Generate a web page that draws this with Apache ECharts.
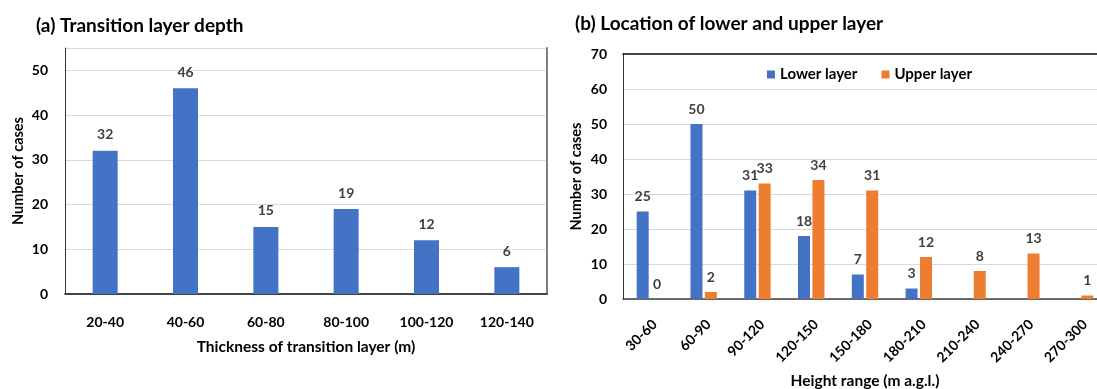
<!DOCTYPE html>
<html>
<head>
<meta charset="utf-8">
<script src="https://cdn.jsdelivr.net/npm/echarts@6/dist/echarts.min.js"></script>
<style>
  html, body { margin: 0; padding: 0; background: #ffffff; }
  #chart { width: 1097px; height: 389px; }
</style>
</head>
<body>
<div id="chart"></div>
<script>
// (a) transition layer thickness classes and case counts
const thicknessClasses = ['20-40', '40-60', '60-80', '80-100', '100-120', '120-140'];
const thicknessCases = [32, 46, 15, 19, 12, 6];

// (b) height ranges and case counts for the lower and upper layer
const heightRanges = ['30-60', '60-90', '90-120', '120-150', '150-180', '180-210', '210-240', '240-270', '270-300'];
const lowerLayerCases = [25, 50, 31, 18, 7, 3, null, null, null];
const upperLayerCases = [0, 2, 33, 34, 31, 12, 8, 13, 1];

// y-axis ticks
const leftTickStep = 10;
const leftAxisMax = 55;
const rightTickStep = 10;
const rightAxisMax = 70;

const FONT = 'Lato, "Open Sans", sans-serif';
const BLUE = '#4472C4';
const ORANGE = '#ED7D31';

const chart = echarts.init(document.getElementById('chart'), null, { renderer: 'canvas' });

const tickText = { color: '#000000', fontFamily: FONT, fontWeight: 'bold', fontSize: 14 };
const xNameText = { color: '#000000', fontFamily: FONT, fontWeight: 'bold', fontSize: 15.5 };
const yNameText = { color: '#000000', fontFamily: FONT, fontWeight: 'bold', fontSize: 14.5 };
const valueLabel = {
  show: true, position: 'top', distance: 8,
  color: '#404040', fontFamily: FONT, fontWeight: 'bold', fontSize: 14
};

chart.setOption({
  animation: false,
  backgroundColor: '#ffffff',
  textStyle: { fontFamily: FONT },
  title: [
    { text: '(a) Transition layer depth', left: 31, top: 11,
      textStyle: { fontFamily: FONT, fontWeight: 'bold', fontSize: 19, color: '#000000' } },
    { text: '(b) Location of lower and upper layer', left: 570, top: 9,
      textStyle: { fontFamily: FONT, fontWeight: 'bold', fontSize: 19, color: '#000000' } }
  ],
  legend: {
    data: ['Lower layer', 'Upper layer'],
    left: 762, top: 62,
    itemWidth: 8, itemHeight: 8, itemGap: 24,
    icon: 'rect',
    textStyle: { color: '#000000', fontFamily: FONT, fontWeight: 'bold', fontSize: 15 }
  },
  grid: [
    { left: 65, top: 48, width: 482, height: 246, outerBoundsMode: 'none' },
    { left: 623, top: 54, width: 484, height: 245, outerBoundsMode: 'none' }
  ],
  xAxis: [
    {
      gridIndex: 0, type: 'category', data: thicknessClasses,
      axisLine: { show: true, lineStyle: { color: '#595959', width: 1.5 } },
      axisTick: { show: false },
      axisLabel: Object.assign({ margin: 21 }, tickText),
      name: 'Thickness of transition layer (m)', nameLocation: 'middle', nameGap: 45,
      nameTextStyle: xNameText
    },
    {
      gridIndex: 1, type: 'category', data: heightRanges,
      axisLine: { show: true, lineStyle: { color: '#404040', width: 1.5 } },
      axisTick: { show: false },
      axisLabel: Object.assign({ margin: 18, rotate: 45, verticalAlign: 'top' }, tickText),
      name: 'Height range (m a.g.l.)', nameLocation: 'middle', nameGap: 74,
      nameTextStyle: xNameText
    },
    // top frame lines
    {
      gridIndex: 0, type: 'category', data: thicknessClasses, position: 'top',
      axisLine: { show: true, lineStyle: { color: '#333333', width: 1.5 } },
      axisTick: { show: false }, axisLabel: { show: false }
    },
    {
      gridIndex: 1, type: 'category', data: heightRanges, position: 'top',
      axisLine: { show: true, lineStyle: { color: '#111111', width: 1.5 } },
      axisTick: { show: false }, axisLabel: { show: false }
    }
  ],
  yAxis: [
    {
      gridIndex: 0, type: 'value', min: 0, max: leftAxisMax, interval: leftTickStep,
      axisLine: { show: true, lineStyle: { color: '#333333', width: 1 } },
      axisTick: { show: false },
      axisLabel: Object.assign({ margin: 17, showMaxLabel: false }, tickText),
      splitLine: { show: true, lineStyle: { color: '#d9d9d9', width: 1 } },
      name: 'Number of cases', nameLocation: 'middle', nameGap: 39,
      nameTextStyle: yNameText
    },
    {
      gridIndex: 1, type: 'value', min: 0, max: rightAxisMax, interval: rightTickStep,
      axisLine: { show: true, lineStyle: { color: '#333333', width: 1 } },
      axisTick: { show: false },
      axisLabel: Object.assign({ margin: 16 }, tickText),
      splitLine: { show: true, lineStyle: { color: '#d9d9d9', width: 1 } },
      name: 'Number of cases', nameLocation: 'middle', nameGap: 39,
      nameTextStyle: yNameText
    },
    // right frame line of panel (a)
    {
      gridIndex: 0, type: 'value', min: 0, max: leftAxisMax, position: 'right',
      axisLine: { show: true, lineStyle: { color: '#7f7f7f', width: 2 } },
      axisTick: { show: false }, axisLabel: { show: false }, splitLine: { show: false }
    }
  ],
  series: [
    {
      name: 'Transition layer', type: 'bar', xAxisIndex: 0, yAxisIndex: 0,
      data: thicknessCases, barWidth: 25,
      itemStyle: { color: BLUE },
      label: Object.assign({}, valueLabel, { distance: 9 })
    },
    {
      name: 'Lower layer', type: 'bar', xAxisIndex: 1, yAxisIndex: 1,
      data: lowerLayerCases, barWidth: 12, barGap: '20%',
      itemStyle: { color: BLUE },
      label: valueLabel
    },
    {
      name: 'Upper layer', type: 'bar', xAxisIndex: 1, yAxisIndex: 1,
      data: upperLayerCases, barWidth: 12, barGap: '20%',
      itemStyle: { color: ORANGE },
      label: valueLabel
    }
  ]
});
</script>
</body>
</html>
